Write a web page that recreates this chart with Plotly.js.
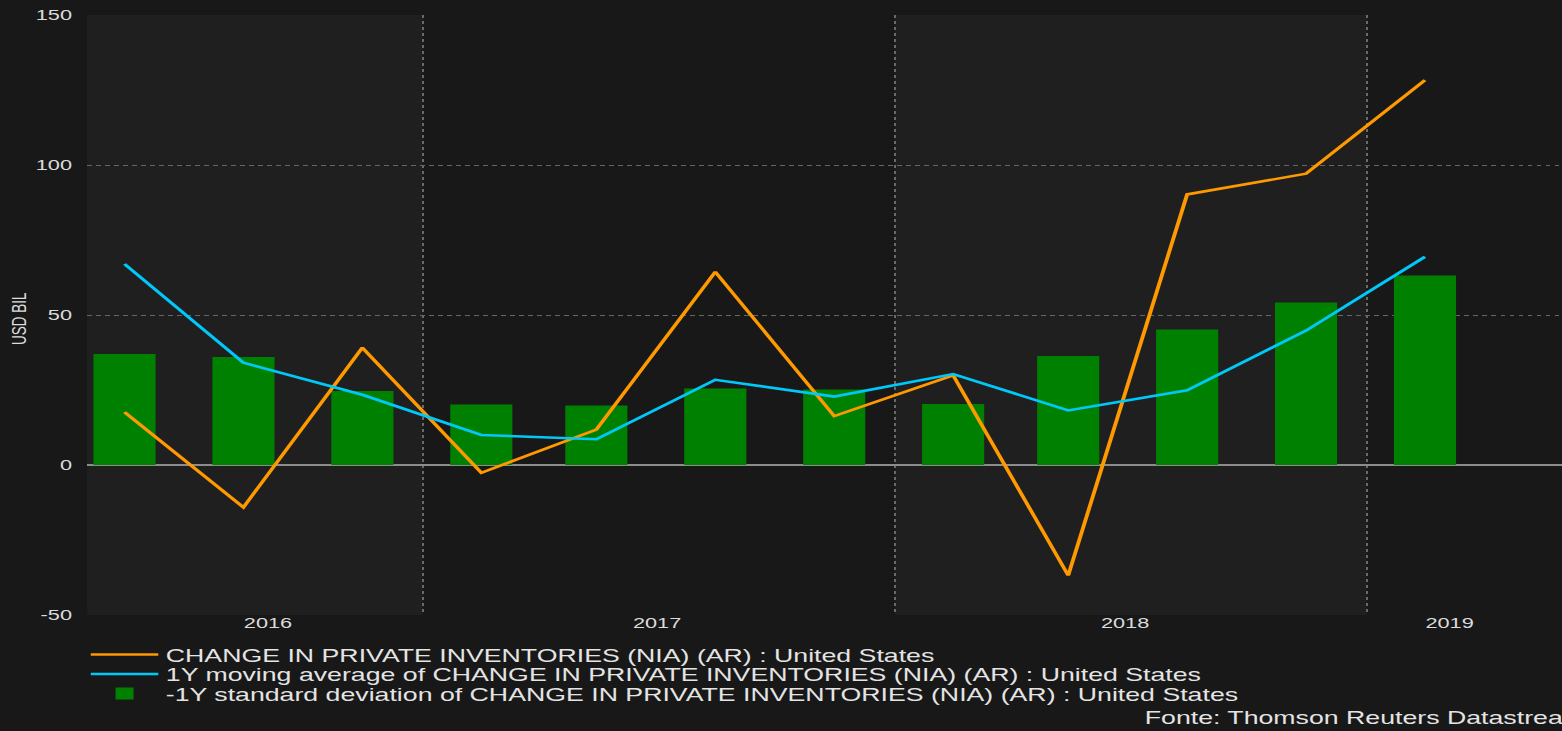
<!DOCTYPE html>
<html>
<head>
<meta charset="utf-8">
<script src="https://cdn.plot.ly/plotly-3.0.1.min.js"></script>
<style>
  html, body { margin: 0; padding: 0; background: #181818; overflow: hidden; width: 1562px; height: 731px; }
  #wrap { width: 1041px; height: 731px; transform: scaleX(1.5005); transform-origin: 0 0; }
</style>
</head>
<body>
<div id="wrap"><div id="chart"></div></div>
<script>
// ---- data (quarterly) ----
const quarters = ['2016-05-15','2016-08-15','2016-11-15','2017-02-15','2017-05-15','2017-08-15',
                  '2017-11-15','2018-02-15','2018-05-15','2018-08-15','2018-11-15','2019-02-15'];
const changeInventories = [17.6, -14.1, 39.1, -2.6, 11.8, 64.4, 16.3, 29.9, -36.8, 90.2, 97.1, 128.3];
const movingAverage1Y   = [67.0, 34.1, 23.4, 10.0, 8.6, 28.4, 22.8, 30.3, 18.2, 24.9, 44.8, 69.4];
const minusStdDev1Y     = [37.0, 36.0, 24.7, 20.2, 19.8, 25.5, 25.2, 20.3, 36.3, 45.2, 54.2, 63.2];

const seriesNames = [
  'CHANGE IN PRIVATE INVENTORIES (NIA) (AR) : United States',
  '1Y moving average of CHANGE IN PRIVATE INVENTORIES (NIA) (AR) : United States',
  '-1Y standard deviation of CHANGE IN PRIVATE INVENTORIES (NIA) (AR) : United States'
];
const yearLabels = ['2016', '2017', '2018', '2019'];
const yearLabelPos = ['2016-09-03', '2017-07-01', '2018-06-28', '2019-03-06'];
const yearBounds = ['2017-01-01', '2018-01-01', '2019-01-01'];
const xRange = ['2016-04-16', '2019-06-01'];
const yTickVals = [-50, 0, 50, 100, 150];
const yTickText = ['-50', '0', '50', '100', '150'];
const yAxisTitle = 'USD BIL';
const sourceNote = 'Fonte: Thomson Reuters Datastream';

const txt = '#dcdcdc';

const traces = [
  { type: 'scatter', mode: 'lines', x: quarters, y: changeInventories, name: seriesNames[0],
    line: { color: '#ff9900', width: 2.6 }, legend: 'legend' },
  { type: 'scatter', mode: 'lines', x: quarters, y: movingAverage1Y, name: seriesNames[1],
    line: { color: '#00c8f8', width: 2.6 }, legend: 'legend2' },
  { type: 'bar', x: quarters, y: minusStdDev1Y, name: seriesNames[2],
    marker: { color: '#008000', line: { width: 0 } }, legend: 'legend3' }
];

// plot area in layout px: left 58, top 15, width 983, height 600
const PW = 983, PH = 600, PL = 58, PB = 615;
const legendBase = {
  xref: 'paper', yref: 'paper', xanchor: 'left', yanchor: 'middle',
  bgcolor: 'rgba(0,0,0,0)', borderwidth: 0, itemwidth: 45,
  font: { family: 'Liberation Sans, Arial, sans-serif', size: 17.8, color: '#e4e4e4' }
};
const lx = (55.5 - PL) / PW;

const layout = {
  width: 1041, height: 731,
  margin: { l: PL, r: 0, t: 15, b: 116, pad: 0, autoexpand: false },
  paper_bgcolor: '#181818', plot_bgcolor: '#181818',
  font: { family: 'Liberation Sans, Arial, sans-serif', color: txt },
  showlegend: true,
  bargap: 0.46,
  xaxis: {
    type: 'date', range: xRange,
    tickmode: 'array', tickvals: yearLabelPos, ticktext: yearLabels,
    ticks: '', showgrid: false, zeroline: false, showline: false,
    tickfont: { size: 14.5, color: txt }, ticklabelstandoff: -2,
    minor: { tickmode: 'array', tickvals: yearBounds, showgrid: true,
             gridcolor: '#6a6a6a', griddash: 'dot', gridwidth: 1, ticks: '' }
  },
  yaxis: {
    range: [-50, 150], tickmode: 'array', tickvals: yTickVals, ticktext: yTickText,
    ticks: '', showgrid: true, gridcolor: '#666666', griddash: 'dot', gridwidth: 1,
    zeroline: true, zerolinecolor: '#8c8c8c', zerolinewidth: 2,
    showline: false, tickfont: { size: 14.5, color: txt }, ticklabelstandoff: 9
  },
  shapes: [
    { type: 'rect', xref: 'x', yref: 'paper', x0: xRange[0], x1: yearBounds[0], y0: 0, y1: 1,
      fillcolor: '#1f1f1f', line: { width: 0 }, layer: 'below' },
    { type: 'rect', xref: 'x', yref: 'paper', x0: yearBounds[1], x1: yearBounds[2], y0: 0, y1: 1,
      fillcolor: '#1f1f1f', line: { width: 0 }, layer: 'below' }
  ],
  legend:  Object.assign({}, legendBase, { x: lx, y: (PB - 655) / PH }),
  legend2: Object.assign({}, legendBase, { x: lx, y: (PB - 674.5) / PH }),
  legend3: Object.assign({}, legendBase, { x: lx, y: (PB - 694) / PH }),
  annotations: [
    { text: yAxisTitle, xref: 'paper', yref: 'paper', x: (13 - PL) / PW, y: (PB - 319) / PH,
      xanchor: 'center', yanchor: 'middle',
      textangle: -90, showarrow: false, font: { size: 13.5, color: txt } },
    { text: sourceNote, xref: 'paper', yref: 'paper', x: (760.5 - PL) / PW, y: (PB - 718.5) / PH,
      xanchor: 'left', yanchor: 'middle', showarrow: false, font: { size: 17.8, color: '#e4e4e4' } }
  ]
};

Plotly.newPlot('chart', traces, layout, { displayModeBar: false, staticPlot: true });
</script>
</body>
</html>
